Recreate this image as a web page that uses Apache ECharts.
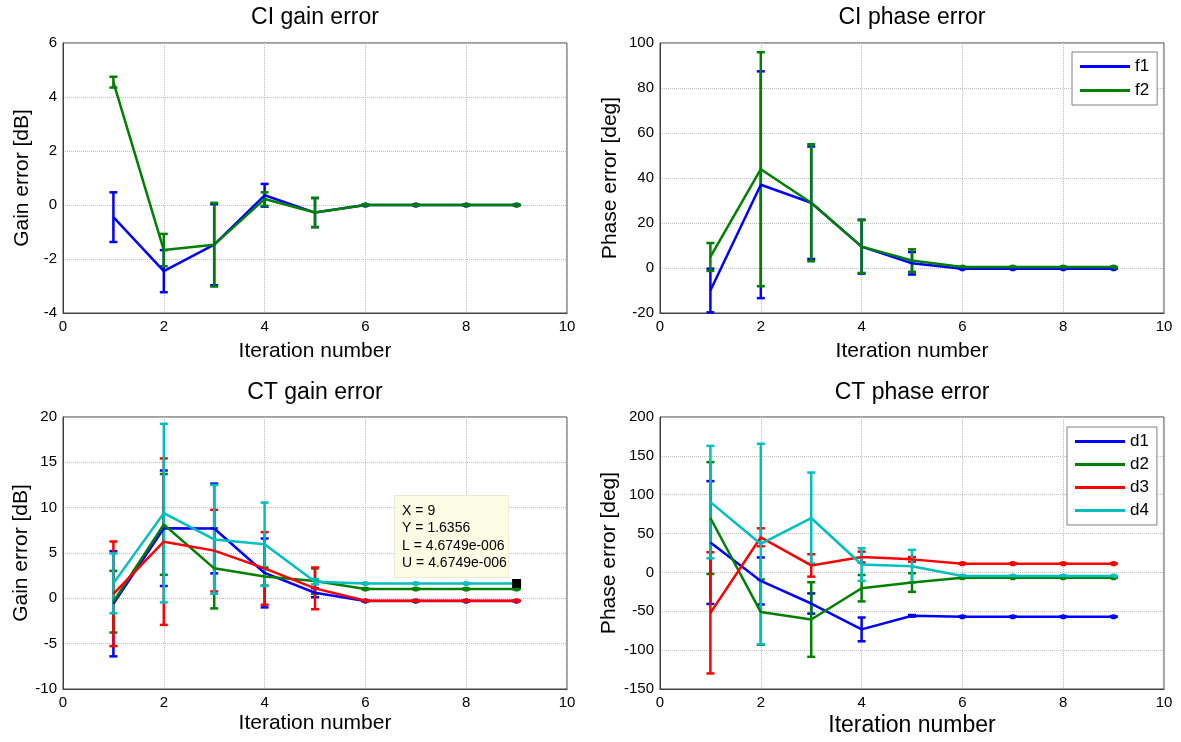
<!DOCTYPE html>
<html>
<head>
<meta charset="utf-8">
<title>CI / CT errors</title>
<script src="https://cdn.jsdelivr.net/npm/echarts@6/dist/echarts.min.js"></script>
<style>
  html, body { margin: 0; padding: 0; background: #fff; }
  #main { width: 1181px; height: 742px; }
</style>
</head>
<body>
<div id="main"></div>
<script>
// iteration numbers and x ticks
const iterations = [1, 2, 3, 4, 5, 6, 7, 8, 9];
const xTicks = [0, 2, 4, 6, 8, 10];

// CI gain error [dB]
const ciGainF1 = [-0.45, -2.45, -1.47, 0.36, -0.28, 0, 0, 0, 0];
const ciGainF1Err = [0.92, 0.78, 1.5, 0.42, 0.54, 0, 0, 0, 0];
const ciGainF2 = [4.55, -1.67, -1.47, 0.22, -0.28, 0, 0, 0, 0];
const ciGainF2Err = [0.2, 0.6, 1.55, 0.25, 0.54, 0, 0, 0, 0];

// CI phase error [deg]
const ciPhaseF1 = [-10, 37, 29, 9.5, 2.1, -0.3, -0.3, -0.3, -0.3];
const ciPhaseF1Err = [9.7, 50.4, 25, 12, 5, 0, 0, 0, 0];
const ciPhaseF2 = [4.9, 43.9, 29, 9.5, 3.3, 0.4, 0.4, 0.4, 0.4];
const ciPhaseF2Err = [6.2, 52, 26, 11.7, 5, 0, 0, 0, 0];

// CT gain error [dB]
const ctGainD1 = [-0.6, 7.73, 7.7, 2.8, 0.62, -0.3, -0.3, -0.3, -0.3];
const ctGainD1Err = [5.8, 6.37, 4.95, 3.8, 0.5, 0, 0, 0, 0];
const ctGainD2 = [-0.37, 8.15, 3.31, 2.4, 1.9, 1.03, 1.03, 1.03, 1.03];
const ctGainD2Err = [3.4, 5.56, 4.42, 1.0, 1.4, 0, 0, 0, 0];
const ctGainD3 = [0.5, 6.25, 5.26, 3.3, 1.1, -0.27, -0.27, -0.27, -0.27];
const ctGainD3Err = [5.77, 9.18, 4.5, 4.0, 2.3, 0, 0, 0, 0];
const ctGainD4 = [1.65, 9.4, 6.5, 5.96, 1.84, 1.6356, 1.6356, 1.6356, 1.6356];
const ctGainD4Err = [3.3, 9.85, 6.0, 4.6, 0.3, 0, 0, 0, 0];

// CT phase error [deg]
const ctPhaseD1 = [38.5, -11, -40, -73.3, -55.8, -57, -57, -57, -57];
const ctPhaseD1Err = [79, 30.3, 13, 15.3, 1, 0, 0, 0, 0];
const ctPhaseD2 = [70, -51, -60.6, -20.3, -13, -6.8, -6.8, -6.8, -6.8];
const ctPhaseD2Err = [72, 42, 48, 17, 12, 0, 0, 0, 0];
const ctPhaseD3 = [-52, 45.2, 9, 19.8, 16.8, 11.2, 11.2, 11.2, 11.2];
const ctPhaseD3Err = [78, 11.6, 14.4, 7, 3, 0, 0, 0, 0];
const ctPhaseD4 = [90.5, 36.6, 70, 10.2, 8, -4.7, -4.7, -4.7, -4.7];
const ctPhaseD4Err = [72.3, 129, 58.5, 21, 21, 0, 0, 0, 0];

// datatip shown on d4 in the CT gain plot
const tipX = 9;
const tipY = 1.6356;
const tipL = '4.6749e-006';
const tipU = '4.6749e-006';

const FONT = 'Liberation Sans, Arial, Helvetica, sans-serif';
const BLUE = '#0000ff', GREEN = '#008000', RED = '#ff0000', CYAN = '#00bfbf';

function errorBarItem(params, api) {
    const x = api.value(0);
    const lo = api.coord([x, api.value(1)]);
    const hi = api.coord([x, api.value(2)]);
    const w = 4;
    const style = { stroke: api.visual('color'), lineWidth: 2.5 };
    const children = [
        { type: 'line', shape: { x1: lo[0], y1: lo[1], x2: hi[0], y2: hi[1] }, style: style },
        { type: 'line', shape: { x1: lo[0] - w, y1: lo[1], x2: lo[0] + w, y2: lo[1] }, style: style },
        { type: 'line', shape: { x1: hi[0] - w, y1: hi[1], x2: hi[0] + w, y2: hi[1] }, style: style }
    ];
    if (Math.abs(lo[1] - hi[1]) < 1) {
        // zero-length bar: caps collapse into a blob
        children.push({ type: 'ellipse', shape: { cx: lo[0], cy: lo[1], rx: 3.8, ry: 2.6 }, style: { fill: api.visual('color') } });
    }
    return { type: 'group', children: children };
}

function makeSeries(name, color, vals, errs, gridIdx, extra) {
    const errData = iterations.map((x, i) => [x, vals[i] - errs[i], vals[i] + errs[i]]);
    const lineData = iterations.map((x, i) => [x, vals[i]]);
    const line = {
        name: name,
        type: 'line',
        xAxisIndex: gridIdx,
        yAxisIndex: gridIdx,
        data: lineData,
        symbol: 'none',
        lineStyle: { color: color, width: 2.5 },
        itemStyle: { color: color },
        animation: false
    };
    if (extra) Object.assign(line, extra);
    return [
        {
            name: name + ' err',
            type: 'custom',
            xAxisIndex: gridIdx,
            yAxisIndex: gridIdx,
            data: errData,
            encode: { x: 0, y: [1, 2] },
            renderItem: errorBarItem,
            itemStyle: { color: color },
            animation: false
        },
        line
    ];
}

const grids = [
    { left: 63, top: 43, width: 504, height: 270 },
    { left: 660, top: 43, width: 504, height: 270 },
    { left: 63, top: 417, width: 504, height: 272 },
    { left: 660, top: 417, width: 504, height: 272 }
].map(g => Object.assign(g, { show: true, borderColor: '#404040', borderWidth: 1, backgroundColor: '#fff' }));

const yRanges = [
    { min: -4, max: 6, interval: 2, name: 'Gain error [dB]', gap: 30 },
    { min: -20, max: 100, interval: 20, name: 'Phase error [deg]', gap: 39 },
    { min: -10, max: 20, interval: 5, name: 'Gain error [dB]', gap: 30 },
    { min: -150, max: 200, interval: 50, name: 'Phase error [deg]', gap: 39 }
];

const xNameGaps = [28, 28, 24, 25];

const xAxes = grids.map((g, i) => ({
    type: 'value',
    gridIndex: i,
    min: xTicks[0],
    max: xTicks[xTicks.length - 1],
    interval: xTicks[1] - xTicks[0],
    name: 'Iteration number',
    nameLocation: 'middle',
    nameGap: xNameGaps[i],
    nameTextStyle: { fontFamily: FONT, fontSize: i === 3 ? 23 : 21, color: '#000' },
    axisLine: { show: true, onZero: false, lineStyle: { color: '#404040' } },
    axisTick: { show: false },
    axisLabel: { fontFamily: FONT, fontSize: 15, color: '#000', margin: 6 },
    splitLine: { show: true, lineStyle: { color: '#bdbdbd', type: 'dotted', width: 1 } }
}));

const yAxes = yRanges.map((r, i) => ({
    type: 'value',
    gridIndex: i,
    min: r.min,
    max: r.max,
    interval: r.interval,
    name: r.name,
    nameLocation: 'middle',
    nameGap: r.gap,
    nameTextStyle: { fontFamily: FONT, fontSize: 21, color: '#000' },
    axisLine: { show: true, onZero: false, lineStyle: { color: '#404040' } },
    axisTick: { show: false },
    axisLabel: { fontFamily: FONT, fontSize: 15, color: '#000', margin: 6 },
    splitLine: { show: true, lineStyle: { color: '#bdbdbd', type: 'dotted', width: 1 } }
}));

const tipMark = {
    markPoint: {
        symbol: 'rect',
        symbolSize: 9,
        itemStyle: { color: '#000' },
        data: [{ coord: [tipX, tipY] }],
        label: {
            show: true,
            position: [-117, -2],
            align: 'left',
            verticalAlign: 'bottom',
            width: 99,
            formatter: 'X = ' + tipX + '\nY = ' + tipY + '\nL = ' + tipL + '\nU = ' + tipU,
            fontFamily: FONT,
            fontSize: 14,
            lineHeight: 17.5,
            color: '#000',
            backgroundColor: '#fcfce4',
            borderColor: '#ecebd0',
            borderWidth: 1,
            padding: [6, 7, 5, 7]
        }
    }
};

const series = [].concat(
    makeSeries('f1', BLUE, ciGainF1, ciGainF1Err, 0),
    makeSeries('f2', GREEN, ciGainF2, ciGainF2Err, 0),
    makeSeries('f1', BLUE, ciPhaseF1, ciPhaseF1Err, 1),
    makeSeries('f2', GREEN, ciPhaseF2, ciPhaseF2Err, 1),
    makeSeries('d1', BLUE, ctGainD1, ctGainD1Err, 2),
    makeSeries('d2', GREEN, ctGainD2, ctGainD2Err, 2),
    makeSeries('d3', RED, ctGainD3, ctGainD3Err, 2),
    makeSeries('d4', CYAN, ctGainD4, ctGainD4Err, 2, tipMark),
    makeSeries('d1', BLUE, ctPhaseD1, ctPhaseD1Err, 3),
    makeSeries('d2', GREEN, ctPhaseD2, ctPhaseD2Err, 3),
    makeSeries('d3', RED, ctPhaseD3, ctPhaseD3Err, 3),
    makeSeries('d4', CYAN, ctPhaseD4, ctPhaseD4Err, 3)
);

const legendBase = {
    orient: 'vertical',
    icon: 'rect',
    itemWidth: 50,
    itemHeight: 3,
    backgroundColor: '#fff',
    borderColor: '#808080',
    borderWidth: 1,
    selectedMode: false,
    textStyle: { fontFamily: FONT, fontSize: 17, color: '#000' }
};

const titles = [
    { text: 'CI gain error', x: 315, y: 18 },
    { text: 'CI phase error', x: 912, y: 18 },
    { text: 'CT gain error', x: 315, y: 393 },
    { text: 'CT phase error', x: 912, y: 393 }
];

const chart = echarts.init(document.getElementById('main'));
chart.setOption({
    animation: false,
    backgroundColor: '#fff',
    grid: grids,
    xAxis: xAxes,
    yAxis: yAxes,
    legend: [
        Object.assign({}, legendBase, { data: ['f1', 'f2'], left: 1072, top: 52, itemGap: 7, padding: [6, 8, 6, 8] }),
        Object.assign({}, legendBase, { data: ['d1', 'd2', 'd3', 'd4'], left: 1067, top: 427, itemGap: 6, padding: [6, 8, 6, 8] })
    ],
    graphic: titles.map(t => ({
        type: 'text',
        x: t.x,
        y: t.y,
        style: { text: t.text, fontFamily: FONT, fontSize: 23, fill: '#000', align: 'center', verticalAlign: 'middle' }
    })),
    series: series
});
</script>
</body>
</html>
